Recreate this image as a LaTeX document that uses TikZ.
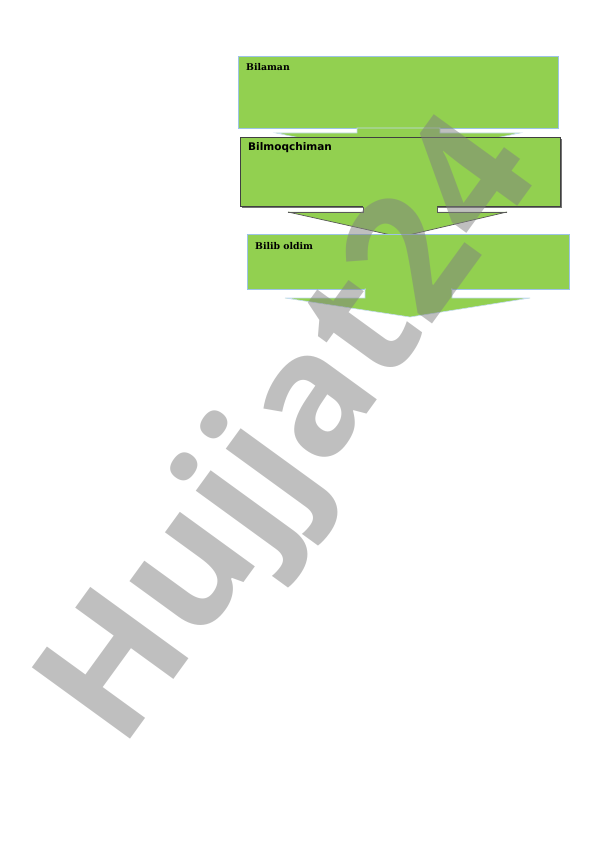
\documentclass[tikz,border=0pt]{standalone}
\usepackage{fontspec}
\newfontfamily\serifb{DejaVu Serif}
\newfontfamily\sansb{DejaVu Sans}
\newfontfamily\wmfont{Open Sans}
\usetikzlibrary{calc}
\definecolor{lgreen}{HTML}{92D050}
\definecolor{lblue}{HTML}{9DC3E6}
\tikzset{
  arrowshape/.style={fill=lgreen, draw=#1, line width=0.6pt, line join=miter},
  lbl/.style={anchor=north west, inner sep=0pt, font=\serifb\bfseries\fontsize{9.3}{11}\selectfont},
}
\begin{document}
\begin{tikzpicture}[x=1pt,y=-1pt]
\useasboundingbox (0,0) rectangle (596,842);
% box 1
\filldraw[draw=lblue, line width=0.8pt, fill=lgreen] (238,56) rectangle (558,128);
\node[lbl] (t1) at (246,63) {Bilaman};
% arrow 1
\path[arrowshape=lblue!60] (357,128) -- (357,133) -- (276,133) -- (398,158) -- (520,133) -- (440,133) -- (440,128) -- cycle;
% box 2 with shadow
\fill[black!55] (242,139) rectangle (562,208);
\filldraw[draw=black!75, line width=0.8pt, fill=lgreen] (240,137) rectangle (560,206);
\node[anchor=north west, inner sep=0pt, font=\sansb\bfseries\fontsize{10.5}{12}\selectfont] (t2) at (248,142) {Bilmoqchiman};
% arrow 2
\path[fill=lgreen] (363,205) -- (363,212) -- (288,212) -- (400,237) -- (507,212) -- (437,212) -- (437,205) -- cycle;
\draw[black!65, line width=0.7pt] (288,212) -- (400,237) -- (507,212);
\draw[black!65, line width=0.7pt] (288,212) -- (363,212) -- (363,207);
\draw[black!65, line width=0.7pt] (507,212) -- (437,212) -- (437,207);
% box 3
\filldraw[draw=lblue, line width=0.8pt, fill=lgreen] (247,234) rectangle (569,289);
\node[lbl] (t3) at (255,242) {Bilib oldim};
% arrow 3
\path[arrowshape=lblue!60] (365,289) -- (365,298) -- (285,298) -- (410,317) -- (530,298) -- (452,298) -- (452,289) -- cycle;
\fill[lgreen] (366,287) rectangle (451,292);
% watermark
\node[rotate=54, text=black!50, opacity=0.5, inner sep=0pt, font=\wmfont\bfseries\fontsize{170}{170}\selectfont] (wm) at (296,436) {Hujjat24};
\end{tikzpicture}
\end{document}
